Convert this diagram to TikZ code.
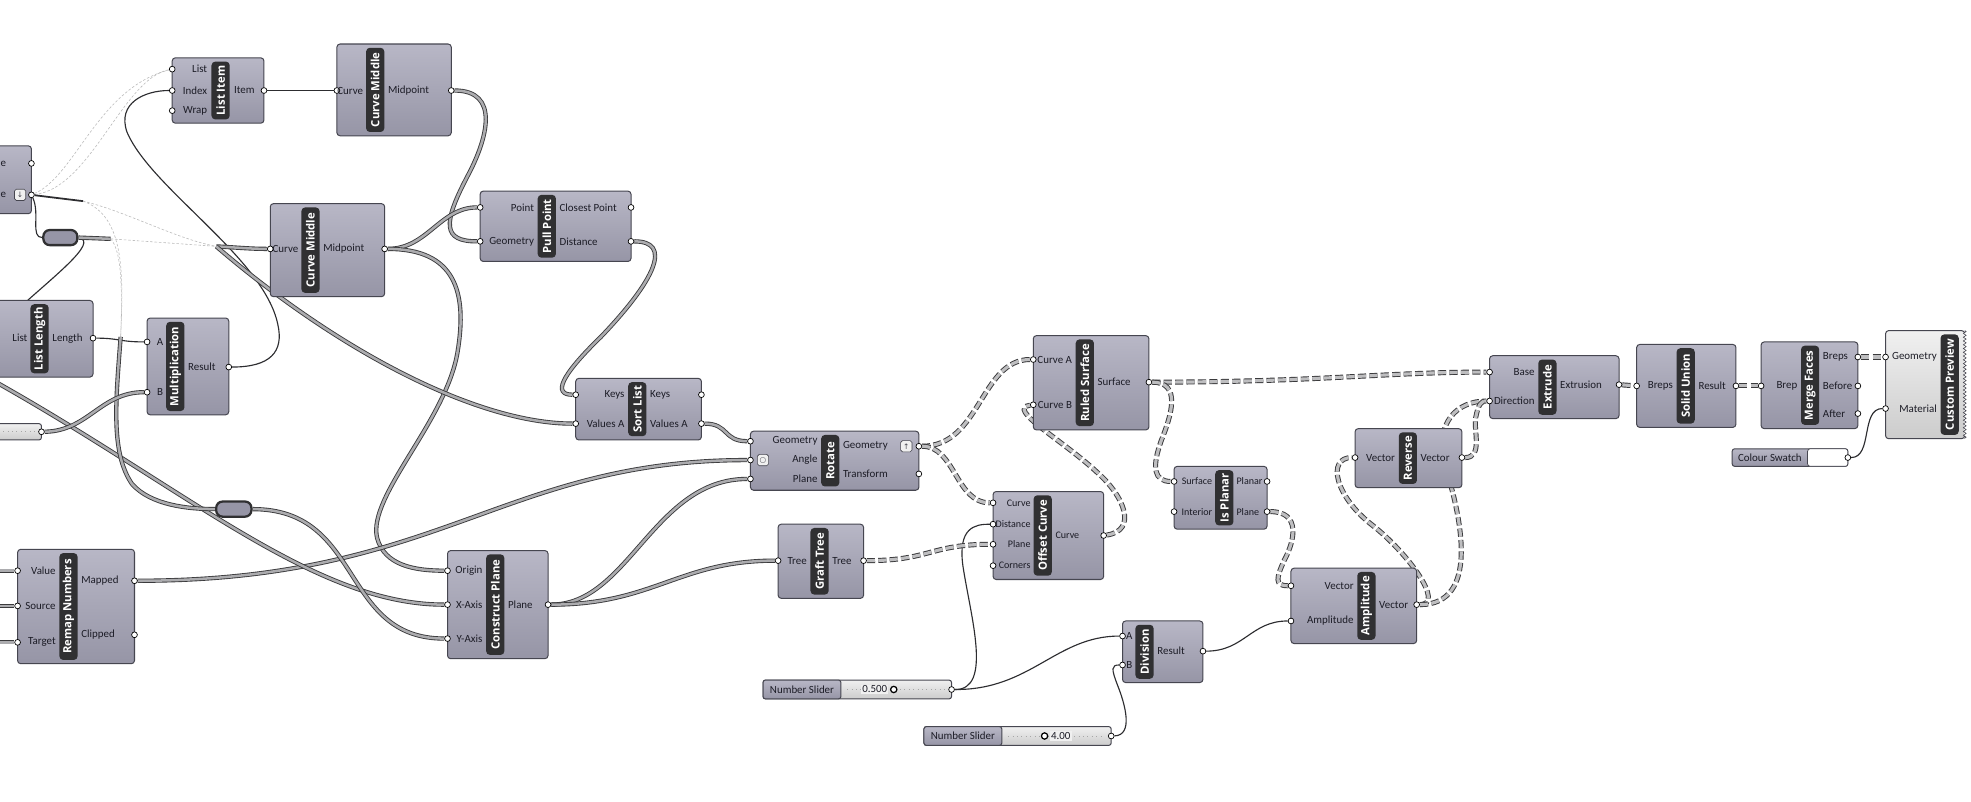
\documentclass[tikz,border=0pt]{standalone}
\usepackage{fontspec}
\setmainfont{Carlito}
\newfontfamily\ttlfont{Open Sans}
\newfontfamily\symfont{DejaVu Sans}
\usetikzlibrary{decorations.pathmorphing}
\pgfdeclarelayer{wires}
\pgfsetlayers{wires,main}
\definecolor{gtop}{RGB}{184,183,198}
\definecolor{gbot}{RGB}{150,149,166}
\definecolor{gdark}{RGB}{70,70,80}
\definecolor{gbar}{RGB}{48,48,50}
\definecolor{labc}{RGB}{28,28,38}
\definecolor{wsingle}{RGB}{45,45,48}
\definecolor{wout}{RGB}{58,58,60}
\definecolor{win}{RGB}{172,172,175}
\definecolor{wtree}{RGB}{190,190,192}
\definecolor{wfaint}{RGB}{185,185,185}
\definecolor{ltop}{RGB}{240,240,240}
\definecolor{lbot}{RGB}{204,204,204}
\tikzset{
 gbox/.style={draw=gdark, line width=0.8pt, rounded corners=2.5pt, top color=gtop, bottom color=gbot, inner sep=0pt},
 gtitlebar/.style={fill=gbar, rounded corners=3pt, rotate=90, text=white, font=\ttlfont\bfseries\fontsize{9}{9}\selectfont, minimum height=14.5pt, inner sep=0.5pt},
 lab/.style={font=\fontsize{8.7}{9}\selectfont, text=labc, inner sep=0pt},
 smalllab/.style={lab/.append style={font=\fontsize{8}{9}\selectfont}},
 portc/.style={circle, draw=black, fill=white, line width=0.55pt, minimum size=4.6pt, inner sep=0pt},
 w1/.style={draw=wsingle, line width=0.9pt},
 w2/.style={draw=wout, double=win, line width=0.7pt, double distance=2pt},
 w3/.style={draw=wout, double=wtree, line width=0.75pt, double distance=2.5pt, dash pattern=on 6.5pt off 2.6pt},
 wf/.style={draw=wfaint, line width=0.45pt, dash pattern=on 2pt off 1.5pt},
 slbox/.style={draw=gdark, line width=0.8pt, rounded corners=2pt, top color=ltop, bottom color=lbot, inner sep=0pt},
 relay/.style={draw=gbar, line width=1.8pt, rounded corners=5pt, fill=gbot, inner sep=0pt},
 ticks/.style={draw=gray!70, line width=0.5pt, dash pattern=on 0.5pt off 3pt},
 knob/.style={circle, draw=black, fill=white, line width=1pt, minimum size=5pt, inner sep=0pt},
 icon/.style={draw=gdark, fill=ltop, rounded corners=1.5pt, minimum size=9pt, inner sep=0pt, line width=0.5pt, font=\symfont\fontsize{6}{6}\selectfont, text=gdark},
}
% component: name, x1, y1, x2, y2, title x, title
\newcommand\gcomp[7]{%
  \node[gbox, minimum width={(#4)-(#2)}, minimum height={(#5)-(#3)}] (#1) at ({((#2)+(#4))/2},{((#3)+(#5))/2}) {};
  \node[gtitlebar, minimum width={(#5)-(#3)-6}] (#1-t) at (#6,{((#3)+(#5))/2}) {#7};
}
% port: name, x, y, label x, label
\newcommand\gin[5]{\node[portc] (#1) at (#2,#3) {}; \node[lab, anchor=east] (#1-l) at (#4,#3) {#5};}
\newcommand\gout[5]{\node[portc] (#1) at (#2,#3) {}; \node[lab, anchor=west] (#1-l) at (#4,#3) {#5};}
\begin{document}
\begin{tikzpicture}[x=1pt,y=-1pt]
\useasboundingbox (0,0) rectangle (1568,638);

% ---------------- components ----------------
% partial component, top left
\node[gbox, minimum width=42, minimum height=54] (pc) at (4,143) {};
\node[lab, anchor=east] (pc-l1) at (5,130) {e};
\node[lab, anchor=east] (pc-l2) at (5,155) {e};
\node[icon] (pc-ic) at (16,155) {↓};
\node[portc] (pc-o1) at (25,130) {};
\node[portc] (pc-o2) at (25,155) {};

\node[relay, minimum width=27, minimum height=12] (r1) at (48,189) {};
\node[relay, minimum width=28, minimum height=12] (r2) at (186,405) {};

\gcomp{li}{137}{46}{210}{98}{175.5}{List Item}
\gin{li-list}{137}{55}{165}{List}
\gin{li-index}{137}{72}{165}{Index}
\gin{li-wrap}{137}{88}{165}{Wrap}
\gout{li-item}{210}{72}{186}{Item}

\gcomp{cmt}{268}{35}{359}{108}{298.5}{Curve Middle}
\gin{cmt-c}{268}{72}{289}{Curve}
\gout{cmt-m}{359}{72}{308.5}{Midpoint}

\gcomp{cmm}{215}{162}{306}{236}{247}{Curve Middle}
\gin{cmm-c}{215}{198}{237.5}{Curve}
\gout{cmm-m}{306}{198}{257}{Midpoint}

\gcomp{pp}{382}{152}{502}{208}{435}{Pull Point}
\gin{pp-pt}{382}{165}{425}{Point}
\gin{pp-geo}{382}{192}{425}{Geometry}
\gout{pp-cp}{502}{165}{445}{Closest Point}
\gout{pp-d}{502}{192}{445}{Distance}

\gcomp{ll}{-3}{239}{74}{300}{31.5}{List Length}
\node[lab, anchor=east] (ll-l) at (22,269) {List};
\gout{ll-len}{74}{269}{41.5}{Length}

\gcomp{mul}{117}{253}{182}{330}{139.5}{Multiplication}
\gin{mul-a}{117}{272}{130}{A}
\gin{mul-b}{117}{312}{130}{B}
\gout{mul-r}{182}{292}{149.5}{Result}

\node[slbox, minimum width=44, minimum height=13] (ps) at (11,343.5) {};
\draw[ticks] (-8,343.5) -- (28,343.5);
\node[portc] (ps-o) at (33,343.5) {};

\gcomp{sl}{458}{301}{558}{350}{507}{Sort List}
\gin{sl-k}{458}{314}{497}{Keys}
\gin{sl-va}{458}{337}{497}{Values A}
\gout{sl-ko}{558}{314}{517}{Keys}
\gout{sl-vao}{558}{337}{517}{Values A}

\gcomp{rot}{597}{343}{731}{390}{660.5}{Rotate}
\gin{rot-g}{597}{351}{650.5}{Geometry}
\gin{rot-a}{597}{366}{650.5}{Angle}
\gin{rot-p}{597}{381}{650.5}{Plane}
\gout{rot-go}{731}{355}{670.5}{Geometry}
\gout{rot-tr}{731}{377}{670.5}{Transform}
\node[icon] (rot-ic1) at (607,366) {○};
\node[icon] (rot-ic2) at (721,355) {↑};

\gcomp{rm}{14}{437}{107}{528}{54.5}{Remap Numbers}
\gin{rm-v}{14}{454}{44.5}{Value}
\gin{rm-s}{14}{482}{44.5}{Source}
\gin{rm-t}{14}{511}{44.5}{Target}
\gout{rm-map}{107}{462}{64.5}{Mapped}
\gout{rm-cl}{107}{505}{64.5}{Clipped}

\gcomp{cpl}{356}{438}{436}{524}{394}{Construct Plane}
\gin{cpl-o}{356}{454}{384}{Origin}
\gin{cpl-x}{356}{481}{384}{X-Axis}
\gin{cpl-y}{356}{508}{384}{Y-Axis}
\gout{cpl-p}{436}{481}{404}{Plane}

\gcomp{gt}{619}{417}{687}{476}{652}{Graft Tree}
\gin{gt-in}{619}{446}{642}{Tree}
\gout{gt-out}{687}{446}{662}{Tree}

\gcomp{rs}{822}{267}{914}{342}{863}{Ruled Surface}
\gin{rs-a}{822}{286}{853}{Curve A}
\gin{rs-b}{822}{322}{853}{Curve B}
\gout{rs-s}{914}{304}{873}{Surface}

\begin{scope}[smalllab]
\gcomp{oc}{790}{391}{878}{461}{829.5}{Offset Curve}
\gin{oc-c}{790}{400}{820}{Curve}
\gin{oc-d}{790}{417}{820}{Distance}
\gin{oc-p}{790}{433}{820}{Plane}
\gin{oc-k}{790}{450}{820}{Corners}
\gout{oc-co}{878}{426}{839.5}{Curve}

\gcomp{ip}{934}{371}{1008}{421}{974}{Is Planar}
\gin{ip-s}{934}{383}{964.5}{Surface}
\gin{ip-i}{934}{407}{964.5}{Interior}
\gout{ip-pn}{1008}{383}{983.5}{Planar}
\gout{ip-pl}{1008}{407}{983.5}{Plane}
\end{scope}

\gcomp{dv}{893}{494}{957}{543}{910.5}{Division}
\gin{dv-a}{893}{506}{901}{A}
\gin{dv-b}{893}{529}{901}{B}
\gout{dv-r}{957}{518}{920.5}{Result}

\gcomp{am}{1027}{452}{1127}{512}{1087}{Amplitude}
\gin{am-v}{1027}{466}{1077}{Vector}
\gin{am-amp}{1027}{494}{1077}{Amplitude}
\gout{am-o}{1127}{481}{1097}{Vector}

\gcomp{rv}{1078}{341}{1163}{388}{1120}{Reverse}
\gin{rv-in}{1078}{364}{1110}{Vector}
\gout{rv-out}{1163}{364}{1130}{Vector}

\gcomp{ex}{1185}{283}{1288}{333}{1231}{Extrude}
\gin{ex-b}{1185}{296}{1221}{Base}
\gin{ex-d}{1185}{319}{1221}{Direction}
\gout{ex-o}{1288}{306}{1241}{Extrusion}

\gcomp{su}{1302}{274}{1381}{340}{1341}{Solid Union}
\gin{su-in}{1302}{307}{1331}{Breps}
\gout{su-o}{1381}{307}{1351}{Result}

\gcomp{mf}{1401}{272}{1478}{341}{1440}{Merge Faces}
\gin{mf-in}{1401}{307}{1430}{Brep}
\gout{mf-b}{1478}{284}{1450}{Breps}
\gout{mf-be}{1478}{307}{1450}{Before}
\gout{mf-af}{1478}{329}{1450}{After}

% custom preview
\node[gbox, top color=ltop, bottom color=lbot, minimum width=63, minimum height=86] (cp) at (1531.5,306) {};
\node[gtitlebar, minimum width=80] (cp-t) at (1551,306) {Custom Preview};
\draw[white, line width=1.6pt] (1563.5,265) -- (1563.5,347);
\draw[gdark, line width=0.5pt, decorate, decoration={zigzag, amplitude=1.1pt, segment length=3pt}] (1563,263) -- (1563,349);
\gin{cp-geo}{1500}{284}{1541}{Geometry}
\gin{cp-mat}{1500}{325}{1541}{Material}

% colour swatch
\node[gbox, rounded corners=2pt, minimum width=92, minimum height=14] (cs) at (1424,364) {};
\path[fill=white, draw=gdark, line width=0.6pt, rounded corners=2pt] (1438,357) rectangle (1470,371);
\node[lab] (cs-l) at (1408,364) {Colour Swatch};
\node[portc] (cs-o) at (1470,364) {};

% number sliders
\node[slbox, minimum width=150, minimum height=15] (s1) at (682,548.5) {};
\path[draw=gdark, line width=0.8pt, top color=gtop, bottom color=gbot, rounded corners=2pt] (607,541) rectangle (669,556);
\node[lab] (s1-l) at (638,548.5) {Number Slider};
\draw[ticks] (674,548.5) -- (752,548.5);
\node[knob] (s1-k) at (711,548.5) {};
\node[lab, anchor=east, fill=ltop, inner sep=1pt] (s1-v) at (707,548.5) {0.500};
\node[portc] (s1-o) at (757,548.5) {};

\node[slbox, minimum width=149, minimum height=15] (s2) at (809.5,585.5) {};
\path[draw=gdark, line width=0.8pt, top color=gtop, bottom color=gbot, rounded corners=2pt] (735,578) rectangle (797,593);
\node[lab] (s2-l) at (766,585.5) {Number Slider};
\draw[ticks] (802,585.5) -- (879,585.5);
\node[knob] (s2-k) at (831,585.5) {};
\node[lab, anchor=west, fill=ltop, inner sep=1pt] (s2-v) at (835,585.5) {4.00};
\node[portc] (s2-o) at (884,585.5) {};

% ---------------- wires ----------------
\coordinate (j1) at (172,196);
\coordinate (j2) at (96,268);
\coordinate (rj) at (88,190);
\coordinate (pcw) at (66,160);
\coordinate (llin) at (12,248);
\coordinate (lft1) at (-5,303);
\coordinate (lv) at (-5,454);
\coordinate (ls) at (-5,482);
\coordinate (lt) at (-5,511);

\begin{pgfonlayer}{wires}
\fill[white] (0,0) rectangle (1568,638);
% faint (hidden) wires
\draw[wf] (pcw) .. controls (100,168) and (140,190) .. (j1);
\draw[wf] (pc-o2) .. controls (60,140) and (78,70) .. (li-list);
\draw[wf] (pc-o2) .. controls (72,150) and (98,62) .. (li-list);
\draw[wf] (rj) -- (j1);
\draw[wf] (rj) .. controls (98,200) and (97,240) .. (j2);
\draw[wf] (pcw) .. controls (100,172) and (98,220) .. (j2);
% single wires
\draw[w1, line width=1.4pt] (pc-o2) -- (pcw);
\draw[w1] (pc-o2) .. controls (32,170) and (24,189) .. (r1.west);
\draw[w1] (r1.east) .. controls (80,192) and (40,222) .. (llin);
\draw[w1] (li-item) -- (cmt-c);
\draw[w1] (mul-r) .. controls (215,292) and (226,280) .. (221,258) .. controls (210,205) and (120,150) .. (101,105) .. controls (93,82) and (115,72) .. (li-index);
\draw[w1] (ll-len) .. controls (95,269) and (95,272) .. (mul-a);
\draw[w1] (s1-o) .. controls (790,549) and (772,490) .. (766,450) .. controls (762,420) and (775,417) .. (oc-d);
\draw[w1] (s1-o) .. controls (820,549) and (840,506) .. (dv-a);
\draw[w1] (s2-o) .. controls (902,585) and (895,560) .. (889,545) .. controls (884,532) and (884,529) .. (dv-b);
\draw[w1] (dv-r) .. controls (990,518) and (995,494) .. (am-amp);
\draw[w1] (cs-o) .. controls (1490,364) and (1480,325) .. (cp-mat);
% list wires
\draw[w2] (r1.east) -- (rj);
\draw[w2] (cmt-m) .. controls (398,72) and (388,110) .. (372,140) .. controls (352,178) and (352,192) .. (pp-geo);
\draw[w2] (cmm-m) .. controls (340,198) and (350,165) .. (pp-pt);
\draw[w2] (cmm-m) .. controls (362,198) and (372,232) .. (364,280) .. controls (355,335) and (292,395) .. (300,428) .. controls (306,450) and (330,454) .. (cpl-o);
\draw[w2] (j1) .. controls (190,197) and (200,198) .. (cmm-c);
\draw[w2] (j1) .. controls (270,280) and (380,337) .. (sl-va);
\draw[w2] (pp-d) .. controls (535,192) and (522,222) .. (478,268) .. controls (445,300) and (440,314) .. (sl-k);
\draw[w2] (sl-vao) .. controls (580,337) and (575,351) .. (rot-g);
\draw[w2] (rm-map) .. controls (350,462) and (400,366) .. (rot-a);
\draw[w2] (cpl-p) .. controls (500,481) and (520,381) .. (rot-p);
\draw[w2] (cpl-p) .. controls (520,481) and (540,446) .. (gt-in);
\draw[w2] (lft1) .. controls (150,390) and (250,481) .. (cpl-x);
\draw[w2] (j2) .. controls (92,320) and (88,360) .. (105,385) .. controls (120,402) and (150,405) .. (r2.west);
\draw[w2] (r2.east) .. controls (290,405) and (270,508) .. (cpl-y);
\draw[w2] (ps-o) .. controls (70,343) and (80,312) .. (mul-b);
\draw[w2] (lv) -- (rm-v);
\draw[w2] (ls) -- (rm-s);
\draw[w2] (lt) -- (rm-t);
% tree wires
\draw[w3] (rot-go) .. controls (780,355) and (780,286) .. (rs-a);
\draw[w3] (rot-go) .. controls (760,355) and (760,400) .. (oc-c);
\draw[w3] (oc-co) .. controls (905,422) and (895,395) .. (872,375) .. controls (845,350) and (800,325) .. (rs-b);
\draw[w3] (gt-out) .. controls (740,446) and (740,433) .. (oc-p);
\draw[w3] (rs-s) .. controls (1050,304) and (1100,296) .. (ex-b);
\draw[w3] (rs-s) .. controls (940,304) and (932,330) .. (924,350) .. controls (916,372) and (918,383) .. (ip-s);
\draw[w3] (ip-pl) .. controls (1035,407) and (1030,430) .. (1022,445) .. controls (1015,460) and (1014,466) .. (am-v);
\draw[w3] (am-o) .. controls (1150,481) and (1120,440) .. (1092,418) .. controls (1062,395) and (1055,364) .. (rv-in);
\draw[w3] (am-o) .. controls (1178,481) and (1162,410) .. (1150,372) .. controls (1140,335) and (1160,319) .. (ex-d);
\draw[w3] (rv-out) .. controls (1180,364) and (1172,342) .. (1174,332) .. controls (1176,322) and (1178,319) .. (ex-d);
\draw[w3] (ex-o) -- (su-in);
\draw[w3] (su-o) -- (mf-in);
\draw[w3] (mf-b) -- (cp-geo);
\end{pgfonlayer}
\end{tikzpicture}
\end{document}
